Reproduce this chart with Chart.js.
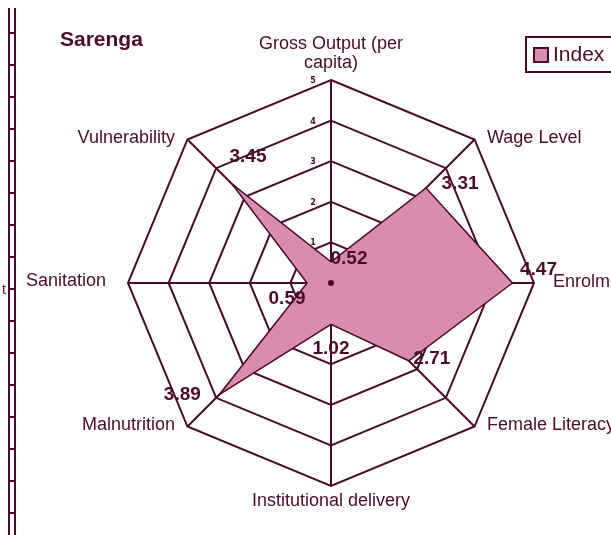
<!DOCTYPE html>
<html>
<head>
<meta charset="utf-8">
<script src="https://cdn.jsdelivr.net/npm/chart.js@4.4.1/dist/chart.umd.min.js"></script>
<style>
    html, body { margin: 0; padding: 0; background: #fff; overflow: hidden; }
    canvas { display: block; }
</style>
</head>
<body>
<canvas id="radarChart" width="611" height="535"></canvas>
<script>
    // ── Data ────────────────────────────────────────────────────
    const categories = [
        ['Gross Output (per', 'capita)'],
        'Wage Level',
        'Enrolment',
        'Female Literacy',
        'Institutional delivery',
        'Malnutrition',
        'Sanitation',
        'Vulnerability'
    ];
    const indexValues = [0.52, 3.31, 4.47, 2.71, 1.02, 3.89, 0.59, 3.45];
    const valueTexts = ['0.52', '3.31', '4.47', '2.71', '1.02', '3.89', '0.59', '3.45'];
    const tickLabels = ['1', '2', '3', '4', '5'];
    const seriesName = 'Index';
    const chartTitle = 'Sarenga';

    // ── Style ───────────────────────────────────────────────────
    const ink = '#4a0a2a';
    const pink = '#d98bb2';
    const labelFont = '18px "Liberation Sans", Arial, sans-serif';
    // nudges (px) from the library's point position
    const catOffsets = [[0, -5], [4, 7], [7, -1], [4, -10], [0, 3], [-4, -10], [-10, -2], [-4, 7]];
    const valOffsets = [[18, -3], [34, -4], [26, -13], [23, -2], [0, 24], [-37, 0], [-20, 16], [16, -27]];

    const decor = {
        id: 'decor',
        afterDraw(chart) {
            const ctx = chart.ctx;
            const r = chart.scales.r;
            const cx = r.xCenter, cy = r.yCenter;
            ctx.save();

            // left frame remnant
            ctx.strokeStyle = ink;
            ctx.lineWidth = 2;
            ctx.beginPath();
            ctx.moveTo(9, 8); ctx.lineTo(9, 535);
            ctx.moveTo(15, 8); ctx.lineTo(15, 535);
            for (let y = 33; y < 535; y += 32) {
                ctx.moveTo(9, y); ctx.lineTo(15, y);
            }
            ctx.stroke();
            ctx.fillStyle = ink;
            ctx.font = '14px "Liberation Sans", Arial, sans-serif';
            ctx.textBaseline = 'middle';
            ctx.textAlign = 'left';
            ctx.fillText('t', 2, 290);

            // title
            ctx.font = 'bold 21px "Liberation Sans", Arial, sans-serif';
            ctx.textBaseline = 'alphabetic';
            ctx.fillText(chartTitle, 60, 46);

            // legend
            ctx.lineWidth = 2;
            ctx.strokeRect(526, 37, 100, 35);
            ctx.fillStyle = pink;
            ctx.fillRect(534, 48, 14, 14);
            ctx.strokeRect(534, 48, 14, 14);
            ctx.fillStyle = ink;
            ctx.font = '21px "Liberation Sans", Arial, sans-serif';
            ctx.textBaseline = 'middle';
            ctx.fillText(chart.data.datasets[0].label, 553, 55);

            // category labels
            ctx.font = labelFont;
            chart.data.labels.forEach((lab, i) => {
                const p = r.getPointPosition(i, r.drawingArea + 12);
                const x = p.x + catOffsets[i][0], y = p.y + catOffsets[i][1];
                ctx.textAlign = Math.abs(p.x - cx) < 2 ? 'center' : (p.x > cx ? 'left' : 'right');
                const lines = Array.isArray(lab) ? lab : [lab];
                lines.forEach((t, k) => {
                    const dy = (i === 0) ? -(lines.length - 1 - k) * 19 : k * 19;
                    ctx.fillText(t, x, y + dy);
                });
            });

            // tick labels
            ctx.font = 'bold 8px "DejaVu Sans", sans-serif';
            ctx.textAlign = 'center';
            r.ticks.forEach((tk, i) => {
                if (tk.value <= 0) return;
                const d = r.getDistanceFromCenterForValue(tk.value);
                ctx.fillText(tickLabels[i - 1] || String(tk.value), cx - 18, cy - d + 1);
            });

            // value labels
            ctx.font = 'bold 19px "Liberation Sans", Arial, sans-serif';
            chart.data.datasets[0].data.forEach((v, i) => {
                const p = r.getPointPosition(i, r.getDistanceFromCenterForValue(v));
                ctx.fillText(valueTexts[i], p.x + valOffsets[i][0], p.y + valOffsets[i][1]);
            });

            // center dot
            ctx.beginPath();
            ctx.arc(cx, cy, 3, 0, Math.PI * 2);
            ctx.fill();
            ctx.restore();
        }
    };

    new Chart(document.getElementById('radarChart'), {
        type: 'radar',
        data: {
            labels: categories,
            datasets: [{
                label: seriesName,
                data: indexValues,
                backgroundColor: pink,
                borderColor: ink,
                borderWidth: 1.5,
                pointRadius: 0,
                fill: true
            }]
        },
        options: {
            responsive: false,
            animation: false,
            layout: { padding: { top: 80, bottom: 49, left: 128, right: 77 } },
            plugins: { legend: { display: false }, tooltip: { enabled: false } },
            scales: {
                r: {
                    z: 1,
                    min: 0, max: 5,
                    ticks: { display: false, stepSize: 1 },
                    grid: { color: ink, lineWidth: 2 },
                    angleLines: { color: ink, lineWidth: 2 },
                    pointLabels: { display: false }
                }
            }
        },
        plugins: [decor]
    });
</script>
</body>
</html>
